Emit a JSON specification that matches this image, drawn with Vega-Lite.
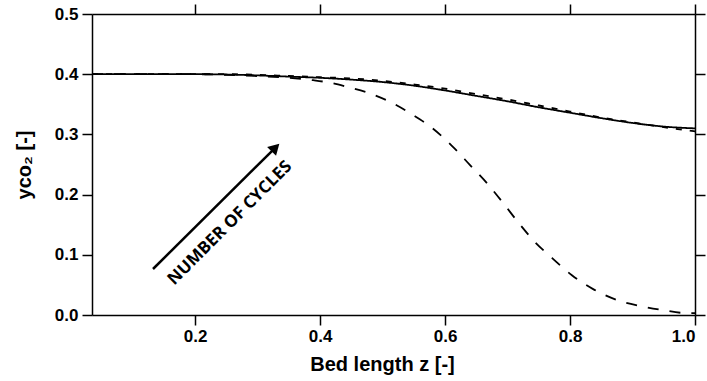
{
  "$schema": "https://vega.github.io/schema/vega-lite/v6.json",
  "autosize": {"type": "none"},
  "width": 603,
  "height": 301,
  "padding": {"left": 92, "top": 14, "right": 12, "bottom": 66},
  "config": {
    "view": {"stroke": null},
    "axis": {
      "domainColor": "black", "domainWidth": 1.5,
      "tickColor": "black", "tickWidth": 1.5, "tickSize": 10,
      "grid": false,
      "labelFont": "Liberation Sans", "labelFontWeight": "bold", "labelFontSize": 17, "labelColor": "black",
      "titleFont": "Liberation Sans", "titleFontWeight": "bold", "titleFontSize": 18, "titleColor": "black"
    }
  },
  "datasets": {
    "curves": [
      {"z": 0.035, "y": 0.400, "s": "a"}, {"z": 0.1, "y": 0.400, "s": "a"}, {"z": 0.2, "y": 0.400, "s": "a"},
      {"z": 0.25, "y": 0.3995, "s": "a"}, {"z": 0.3, "y": 0.398, "s": "a"}, {"z": 0.35, "y": 0.396, "s": "a"},
      {"z": 0.4, "y": 0.394, "s": "a"}, {"z": 0.45, "y": 0.391, "s": "a"}, {"z": 0.5, "y": 0.387, "s": "a"},
      {"z": 0.55, "y": 0.381, "s": "a"}, {"z": 0.6, "y": 0.373, "s": "a"}, {"z": 0.65, "y": 0.364, "s": "a"},
      {"z": 0.7, "y": 0.355, "s": "a"}, {"z": 0.75, "y": 0.345, "s": "a"}, {"z": 0.8, "y": 0.336, "s": "a"},
      {"z": 0.85, "y": 0.327, "s": "a"}, {"z": 0.9, "y": 0.319, "s": "a"}, {"z": 0.95, "y": 0.313, "s": "a"},
      {"z": 1.0, "y": 0.310, "s": "a"},
      {"z": 0.035, "y": 0.400, "s": "b"}, {"z": 0.1, "y": 0.400, "s": "b"}, {"z": 0.2, "y": 0.400, "s": "b"},
      {"z": 0.25, "y": 0.400, "s": "b"}, {"z": 0.3, "y": 0.399, "s": "b"}, {"z": 0.35, "y": 0.397, "s": "b"},
      {"z": 0.4, "y": 0.395, "s": "b"}, {"z": 0.45, "y": 0.393, "s": "b"}, {"z": 0.5, "y": 0.389, "s": "b"},
      {"z": 0.55, "y": 0.383, "s": "b"}, {"z": 0.6, "y": 0.376, "s": "b"}, {"z": 0.65, "y": 0.367, "s": "b"},
      {"z": 0.7, "y": 0.358, "s": "b"}, {"z": 0.75, "y": 0.348, "s": "b"}, {"z": 0.8, "y": 0.338, "s": "b"},
      {"z": 0.85, "y": 0.328, "s": "b"}, {"z": 0.9, "y": 0.320, "s": "b"}, {"z": 0.95, "y": 0.312, "s": "b"},
      {"z": 1.0, "y": 0.305, "s": "b"},
      {"z": 0.035, "y": 0.400, "s": "c"}, {"z": 0.1, "y": 0.400, "s": "c"}, {"z": 0.2, "y": 0.400, "s": "c"},
      {"z": 0.25, "y": 0.399, "s": "c"}, {"z": 0.3, "y": 0.397, "s": "c"}, {"z": 0.35, "y": 0.394, "s": "c"},
      {"z": 0.389, "y": 0.390, "s": "c"}, {"z": 0.42, "y": 0.385, "s": "c"}, {"z": 0.443, "y": 0.379, "s": "c"},
      {"z": 0.48, "y": 0.368, "s": "c"}, {"z": 0.512, "y": 0.354, "s": "c"}, {"z": 0.549, "y": 0.332, "s": "c"},
      {"z": 0.579, "y": 0.311, "s": "c"}, {"z": 0.613, "y": 0.279, "s": "c"}, {"z": 0.640, "y": 0.249, "s": "c"},
      {"z": 0.667, "y": 0.219, "s": "c"}, {"z": 0.693, "y": 0.186, "s": "c"}, {"z": 0.717, "y": 0.154, "s": "c"},
      {"z": 0.744, "y": 0.121, "s": "c"}, {"z": 0.771, "y": 0.095, "s": "c"}, {"z": 0.803, "y": 0.066, "s": "c"},
      {"z": 0.837, "y": 0.043, "s": "c"}, {"z": 0.875, "y": 0.025, "s": "c"}, {"z": 0.912, "y": 0.015, "s": "c"},
      {"z": 0.949, "y": 0.008, "s": "c"}, {"z": 0.989, "y": 0.003, "s": "c"}, {"z": 1.0, "y": 0.003, "s": "c"}
    ],
    "arrow": [{"z": 0.1326, "y": 0.0764, "z2": 0.3286, "y2": 0.2782}],
    "label": [{"z": 0.2558, "y": 0.1528, "t": "NUMBER OF CYCLES"}]
  },
  "layer": [
    {
      "data": {"name": "curves"},
      "mark": {"type": "line", "color": "black", "strokeWidth": 1.8, "interpolate": "monotone"},
      "encoding": {
        "x": {"field": "z", "type": "quantitative", "scale": {"domain": [0.035, 1.0], "nice": false, "zero": false},
              "axis": {"orient": "bottom", "values": [0.2, 0.4, 0.6, 0.8, 1.0], "format": ".1f", "title": "Bed length z [-]", "titleFontSize": 20, "labelPadding": 3, "titlePadding": 10, "titleX": 290, "titleAlign": "center"}},
        "y": {"field": "y", "type": "quantitative", "scale": {"domain": [0, 0.5], "nice": false},
              "axis": {"orient": "left", "values": [0, 0.1, 0.2, 0.3, 0.4, 0.5], "format": ".1f", "title": "yᴄᴏ₂ [-]", "titleFontSize": 20, "labelPadding": 4, "titlePadding": 20}},
        "strokeDash": {"field": "s", "type": "nominal", "legend": null,
              "scale": {"domain": ["a", "b", "c"], "range": [[1, 0], [6, 8], [11, 11]]}},
        "detail": {"field": "s"}
      }
    },
    {
      "data": {"name": "curves"},
      "mark": {"type": "point", "opacity": 0},
      "encoding": {
        "x": {"field": "z", "type": "quantitative", "scale": {"domain": [0.035, 1.0], "nice": false, "zero": false},
              "axis": {"orient": "top", "values": [0.2, 0.4, 0.6, 0.8, 1.0], "labels": false, "title": null}},
        "y": {"field": "y", "type": "quantitative", "scale": {"domain": [0, 0.5], "nice": false},
              "axis": {"orient": "right", "values": [0, 0.1, 0.2, 0.3, 0.4, 0.5], "labels": false, "title": null}}
      }
    },
    {
      "data": {"name": "arrow"},
      "mark": {"type": "rule", "color": "black", "strokeWidth": 2.5},
      "encoding": {
        "x": {"field": "z", "type": "quantitative", "axis": null},
        "y": {"field": "y", "type": "quantitative", "axis": null},
        "x2": {"field": "z2"},
        "y2": {"field": "y2"}
      }
    },
    {
      "data": {"name": "arrow"},
      "mark": {"type": "point", "shape": "triangle-up", "angle": 45, "filled": true, "color": "black", "opacity": 1, "size": 160},
      "encoding": {
        "x": {"field": "z2", "type": "quantitative", "axis": null},
        "y": {"field": "y2", "type": "quantitative", "axis": null}
      }
    },
    {
      "data": {"name": "label"},
      "mark": {"type": "text", "angle": -45, "font": "Open Sans", "fontWeight": "bold", "fontSize": 17, "color": "black", "align": "center", "baseline": "middle"},
      "encoding": {
        "x": {"field": "z", "type": "quantitative", "axis": null},
        "y": {"field": "y", "type": "quantitative", "axis": null},
        "text": {"field": "t"}
      }
    }
  ],
  "resolve": {"axis": {"x": "independent", "y": "independent"}}
}
